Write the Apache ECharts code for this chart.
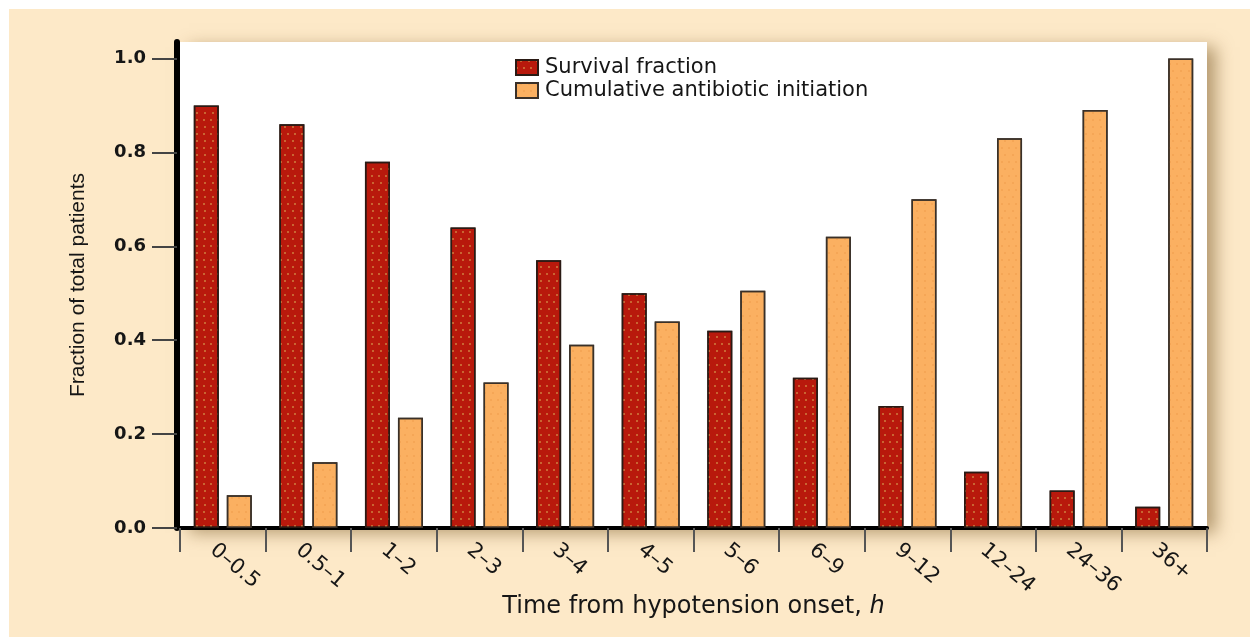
<!DOCTYPE html>
<html>
<head>
<meta charset="utf-8">
<script src="https://cdn.jsdelivr.net/npm/echarts@6/dist/echarts.min.js"></script>
<style>
  html, body { margin: 0; padding: 0; background: #ffffff; }
  #panel { position: absolute; left: 9px; top: 9px; right: 0; bottom: 0; background: #fde9c8; }
  #chart { position: absolute; left: 0; top: 0; width: 1250px; height: 637px; }
</style>
</head>
<body>
<div id="panel"></div>
<div id="chart"></div>
<script>
// Time bins after hypotension onset (hours)
const categories = ['0–0.5', '0.5–1', '1–2', '2–3', '3–4', '4–5', '5–6', '6–9', '9–12', '12–24', '24–36', '36+'];
// Fraction of patients surviving when effective antibiotics start in each bin
const survivalFraction = [0.90, 0.86, 0.78, 0.64, 0.57, 0.50, 0.42, 0.32, 0.26, 0.12, 0.08, 0.045];
// Cumulative fraction of patients who have started effective antibiotics
const cumulativeInitiation = [0.07, 0.14, 0.235, 0.31, 0.39, 0.44, 0.505, 0.62, 0.70, 0.83, 0.89, 1.00];
// Y axis tick values
const yTicks = [0, 0.2, 0.4, 0.6, 0.8, 1.0];

const font = 'DejaVu Sans';

const chart = echarts.init(document.getElementById('chart'), null, { renderer: 'canvas' });

chart.setOption({
  backgroundColor: 'transparent',
  animation: false,
  grid: {
    left: 180, right: 43, top: 42, bottom: 109,
    show: true,
    backgroundColor: '#ffffff',
    borderWidth: 0,
    shadowColor: 'rgba(110, 75, 25, 0.5)',
    shadowBlur: 16,
    shadowOffsetX: 9,
    shadowOffsetY: 5
  },
  legend: {
    orient: 'vertical',
    left: 515,
    top: 57,
    padding: 0,
    itemWidth: 22,
    itemHeight: 15,
    itemGap: 2,
    icon: 'rect',
    textStyle: { fontFamily: font, fontSize: 21, color: '#161616', padding: [0, 0, 0, 2] },
    data: ['Survival fraction', 'Cumulative antibiotic initiation']
  },
  xAxis: {
    type: 'category',
    data: categories,
    name: 'Time from hypotension onset, {i|h}',
    nameLocation: 'middle',
    nameGap: 67,
    nameMoveOverlap: false,
    nameTextStyle: {
      fontFamily: font, fontSize: 24, color: '#161616',
      rich: { i: { fontFamily: font, fontSize: 24, fontStyle: 'italic', color: '#161616' } }
    },
    axisLine: { show: true, lineStyle: { color: '#000000', width: 4 } },
    axisTick: { show: true, length: 24, lineStyle: { color: '#555555', width: 2 } },
    axisLabel: {
      rotate: -40,
      margin: 28,
      fontFamily: font,
      fontSize: 21,
      color: '#161616',
      padding: [0, 0, 0, -13]
    },
    splitLine: { show: false }
  },
  yAxis: {
    type: 'value',
    min: 0,
    max: 1.035,
    offset: 3,
    name: 'Fraction of total patients',
    nameLocation: 'middle',
    nameRotate: 90,
    nameGap: 88,
    nameTextStyle: { fontFamily: 'Liberation Sans', fontSize: 21, color: '#161616' },
    axisLine: { show: true, lineStyle: { color: '#000000', width: 6 } },
    axisTick: { show: true, length: 25, customValues: yTicks, lineStyle: { color: '#444444', width: 2 } },
    axisLabel: {
      customValues: yTicks,
      margin: 31,
      fontFamily: font,
      fontWeight: 'bold',
      fontSize: 18,
      color: '#161616',
      formatter: v => v.toFixed(1)
    },
    splitLine: { show: false }
  },
  series: [
    {
      name: 'Survival fraction',
      type: 'bar',
      data: survivalFraction,
      barWidth: 25,
      barGap: '32%',
      itemStyle: {
        color: '#b8190c',
        borderColor: '#2a1a14',
        borderWidth: 1.5,
        decal: {
          symbol: 'circle',
          symbolSize: 1,
          color: 'rgba(214, 160, 80, 0.75)',
          dashArrayX: [[2, 5], [0, 3.5, 2, 1.5]],
          dashArrayY: [2, 5]
        }
      }
    },
    {
      name: 'Cumulative antibiotic initiation',
      type: 'bar',
      data: cumulativeInitiation,
      barWidth: 25,
      itemStyle: {
        color: '#fbb061',
        borderColor: '#3a3028',
        borderWidth: 1.5,
        decal: {
          symbol: 'circle',
          symbolSize: 1,
          color: 'rgba(225, 140, 60, 0.35)',
          dashArrayX: [[2, 5], [0, 3.5, 2, 1.5]],
          dashArrayY: [2, 5]
        }
      }
    }
  ]
});
</script>
</body>
</html>
